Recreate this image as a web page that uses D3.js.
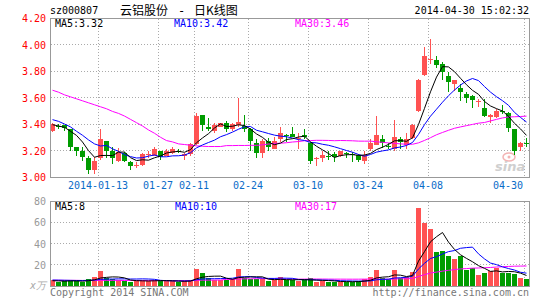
<!DOCTYPE html>
<html>
<head>
<meta charset="utf-8">
<script src="https://cdn.jsdelivr.net/npm/d3@7/dist/d3.min.js"></script>
<style>
  body { margin: 0; background: #fff; }
  svg { display: block; }
  text { font-family: "DejaVu Sans Mono", "Liberation Mono", monospace; font-size: 10px; }
</style>
</head>
<body>
<svg id="chart" width="545" height="300"></svg>
<script>
// ---- data ----
const tickIdx = [8, 18, 24, 33, 43, 53, 63, 79];
const tickLabels = ["2014-01-13", "01-27", "02-11", "02-24", "03-10", "03-24", "04-08", "04-30"];
const priceTicks = [4.2, 4.0, 3.8, 3.6, 3.4, 3.2, 3.0];
const volTicks = [80, 60, 40, 20];

const open = [3.35,3.385,3.39,3.36,3.225,3.20,3.145,3.055,3.14,3.27,
  3.20,3.12,3.18,3.11,3.085,3.09,3.17,3.16,3.20,3.16,
  3.18,3.20,3.16,3.17,3.25,3.47,3.38,3.345,3.38,3.405,
  3.36,3.39,3.385,3.36,3.26,3.18,3.27,3.21,3.285,3.32,
  3.325,3.29,3.32,3.26,3.14,3.14,3.16,3.17,3.16,3.18,
  3.175,3.165,3.12,3.21,3.245,3.29,3.235,3.21,3.285,3.245,
  3.295,3.496,3.77,3.885,3.88,3.85,3.76,3.70,3.67,3.63,
  3.61,3.565,3.52,3.45,3.45,3.495,3.485,3.36,3.225,3.26];
const high = [3.41,3.40,3.395,3.365,3.23,3.23,3.16,3.15,3.36,3.27,
  3.23,3.22,3.19,3.12,3.11,3.18,3.20,3.23,3.20,3.21,
  3.23,3.21,3.18,3.26,3.48,3.47,3.445,3.41,3.41,3.425,
  3.41,3.60,3.47,3.37,3.29,3.29,3.295,3.30,3.38,3.325,
  3.38,3.335,3.365,3.265,3.15,3.20,3.20,3.19,3.20,3.19,
  3.19,3.175,3.20,3.285,3.46,3.315,3.26,3.43,3.30,3.33,
  3.40,3.74,3.98,4.04,3.915,3.87,3.79,3.73,3.705,3.64,
  3.62,3.59,3.59,3.475,3.515,3.545,3.49,3.365,3.265,3.295];
const low = [3.34,3.36,3.35,3.195,3.16,3.12,3.02,3.02,3.13,3.14,
  3.10,3.11,3.11,3.05,3.07,3.08,3.14,3.16,3.13,3.155,
  3.17,3.18,3.13,3.16,3.24,3.345,3.35,3.33,3.375,3.34,
  3.35,3.38,3.34,3.20,3.145,3.145,3.20,3.21,3.265,3.265,
  3.30,3.215,3.29,3.10,3.08,3.11,3.13,3.11,3.15,3.145,
  3.11,3.11,3.10,3.20,3.24,3.22,3.215,3.195,3.215,3.215,
  3.29,3.49,3.765,3.85,3.82,3.73,3.64,3.65,3.57,3.555,
  3.52,3.53,3.455,3.41,3.445,3.475,3.34,3.165,3.20,3.225];
const close = [3.40,3.38,3.37,3.225,3.195,3.15,3.055,3.12,3.29,3.20,
  3.14,3.19,3.12,3.08,3.09,3.17,3.175,3.21,3.15,3.20,
  3.21,3.198,3.175,3.25,3.46,3.39,3.36,3.39,3.405,3.36,
  3.40,3.415,3.36,3.27,3.18,3.27,3.23,3.27,3.33,3.315,
  3.30,3.295,3.30,3.12,3.145,3.165,3.155,3.15,3.195,3.175,
  3.17,3.125,3.165,3.255,3.32,3.26,3.23,3.30,3.265,3.29,
  3.395,3.73,3.91,3.89,3.845,3.79,3.72,3.73,3.64,3.60,
  3.58,3.57,3.46,3.47,3.50,3.49,3.37,3.195,3.26,3.255];
const volume = [5.6,4.0,4.4,5.4,4.6,4.2,6.4,8.4,14.0,7.6,
  6.4,5.8,4.4,3.8,4.8,5.6,5.0,5.4,4.4,4.8,
  4.6,4.0,4.6,5.2,15.6,12.0,7.6,5.8,5.4,6.0,
  6.8,15.6,7.4,6.8,6.8,6.4,4.6,5.4,8.2,5.4,
  5.6,5.0,5.6,7.2,4.2,4.6,4.0,4.0,4.2,4.0,
  4.0,4.4,6.4,8.2,14.8,8.0,6.2,14.8,7.2,8.2,
  13.2,73.7,59.5,53.5,32,33,28.5,25,28.5,14.8,
  17.3,10.2,12.3,14.2,17.3,12.3,12.3,11,7.6,6.3];

// moving-average values before enough visible days exist
const ma5Lead = [3.395, 3.385, 3.375, 3.345];
const ma10Lead = [3.433, 3.42, 3.40, 3.378, 3.345, 3.315, 3.28, 3.25, 3.234];
const ma30Lead = [3.655,3.64,3.62,3.605,3.59,3.575,3.56,3.545,3.53,3.515,
  3.495,3.48,3.46,3.435,3.41,3.385,3.355,3.33,3.30,3.275,
  3.265,3.25,3.245,3.24,3.235,3.232,3.23,3.23,3.23];
const vma5Lead = [5.0, 4.8, 4.6, 4.8];
const vma10Lead = [5.6, 5.5, 5.4, 5.3, 5.2, 5.2, 5.3, 5.6, 6.2];
const vma30Lead = [5.4,5.4,5.3,5.3,5.3,5.2,5.2,5.2,5.3,5.3,
  5.3,5.3,5.2,5.2,5.2,5.2,5.2,5.1,5.1,5.1,
  5.1,5.1,5.1,5.2,5.4,5.5,5.5,5.6,5.6];

const RED = "#ff5252", GREEN = "#009c00";

function movingAvg(arr, n, lead) {
  return arr.map((_, i) => i < n - 1 ? lead[i] : d3.mean(arr.slice(i - n + 1, i + 1)));
}

const svg = d3.select("#chart");
const n = close.length;
const x = d3.scaleLinear().domain([0, n - 1]).range([50, 524]);
const yP = d3.scaleLinear().domain([3, 4.2]).range([177, 18]);
const yV = d3.scaleLinear().domain([0, 80]).range([286, 201]);
const crisp = v => Math.floor(v) + 0.5;
const up = i => close[i] >= open[i];

// header
svg.append("text").attr("x", 50).attr("y", 14).text("sz000807");
svg.append("text").attr("x", 120).attr("y", 15)
  .style("font-family", "'Noto Sans CJK SC', sans-serif").style("font-size", "12px").text("云铝股份");
svg.append("text").attr("x", 178).attr("y", 15).style("font-size", "12px").text("-");
svg.append("text").attr("x", 194).attr("y", 15)
  .style("font-family", "'Noto Sans CJK SC', sans-serif").style("font-size", "12px").text("日K线图");
svg.append("text").attr("x", 529).attr("y", 14).attr("text-anchor", "end").text("2014-04-30 15:02:32");

function grid(g, top, bottom, hVals, yScale) {
  g.selectAll(".hg").data(hVals).enter().append("line")
    .attr("x1", 51).attr("x2", 529)
    .attr("y1", d => crisp(yScale(d))).attr("y2", d => crisp(yScale(d)))
    .attr("stroke", "#aaa").attr("stroke-dasharray", "1,2");
  g.selectAll(".vg").data(tickIdx).enter().append("line")
    .attr("x1", d => crisp(x(d))).attr("x2", d => crisp(x(d)))
    .attr("y1", top).attr("y2", bottom)
    .attr("stroke", "#aaa").attr("stroke-dasharray", "1,2");
}

// ---- price panel ----
const pg = svg.append("g");
grid(pg, 19, 177, priceTicks.slice(1, -1), yP);

pg.selectAll(".plab").data(priceTicks).enter().append("text")
  .attr("x", 46).attr("y", d => yP(d) + 4).attr("text-anchor", "end")
  .attr("fill", "#ff0000").text(d => d.toFixed(2));

pg.selectAll(".dlab").data(tickIdx).enter().append("text")
  .attr("x", (d, i) => i === tickIdx.length - 1 ? 523 : x(d))
  .attr("y", 189)
  .attr("text-anchor", (d, i) => i === tickIdx.length - 1 ? "end" : "middle")
  .attr("fill", "#0a6cc8").text((d, i) => tickLabels[i]);

// sina watermark
pg.append("ellipse").attr("cx", 509).attr("cy", 157).attr("rx", 6).attr("ry", 4)
  .attr("fill", "none").attr("stroke", "#f3b4b4").attr("stroke-width", 1.5);
pg.append("circle").attr("cx", 509).attr("cy", 157).attr("r", 1.5).attr("fill", "#f3b4b4");
pg.append("text").attr("x", 495).attr("y", 171)
  .style("font-family", "'DejaVu Sans', sans-serif").style("font-size", "13px")
  .style("font-weight", "bold").style("font-style", "italic")
  .attr("fill", "#cfcfcf").text("sina");

const idx = d3.range(n);
// wicks
pg.selectAll(".wick").data(idx).enter().append("rect")
  .attr("x", i => x(i) + 2).attr("width", 1)
  .attr("y", i => Math.round(yP(high[i])))
  .attr("height", i => Math.max(1, Math.round(yP(low[i])) - Math.round(yP(high[i]))))
  .attr("fill", i => up(i) ? RED : GREEN);
// bodies
pg.selectAll(".body").data(idx).enter().append("rect")
  .attr("x", i => x(i)).attr("width", 5)
  .attr("y", i => Math.round(yP(Math.max(open[i], close[i]))))
  .attr("height", i => Math.max(1, Math.round(yP(Math.min(open[i], close[i]))) - Math.round(yP(Math.max(open[i], close[i])))))
  .attr("fill", i => up(i) ? RED : GREEN);

const ma5 = movingAvg(close, 5, ma5Lead);
const ma10 = movingAvg(close, 10, ma10Lead);
const ma30 = movingAvg(close, 30, ma30Lead);
const pLine = d3.line().x((d, i) => x(i) + 2.5).y(d => yP(d));
[[ma30, "#ff00ff"], [ma10, "#0000ff"], [ma5, "#000000"]].forEach(([s, c]) => {
  pg.append("path").attr("d", pLine(s)).attr("fill", "none").attr("stroke", c).attr("stroke-width", 1);
});

pg.append("rect").attr("x", 50.5).attr("y", 18.5).attr("width", 479).attr("height", 159)
  .attr("fill", "none").attr("stroke", "#999");

pg.append("text").attr("x", 55).attr("y", 27).attr("fill", "#000").text("MA5:3.32");
pg.append("text").attr("x", 174).attr("y", 27).attr("fill", "#0000ff").text("MA10:3.42");
pg.append("text").attr("x", 295).attr("y", 27).attr("fill", "#ff00ff").text("MA30:3.46");

// ---- volume panel ----
const vg = svg.append("g");
grid(vg, 202, 286, volTicks.slice(1), yV);

vg.selectAll(".vlab").data(volTicks).enter().append("text")
  .attr("x", 46).attr("y", d => yV(d) + 4).attr("text-anchor", "end")
  .attr("fill", "#999").text(d => d);
vg.append("text").attr("x", 30).attr("y", 289).attr("fill", "#aaa").style("font-style", "italic").text("x万");

vg.selectAll(".vbar").data(idx).enter().append("rect")
  .attr("x", i => x(i)).attr("width", 5)
  .attr("y", i => Math.round(yV(volume[i])))
  .attr("height", i => 286 - Math.round(yV(volume[i])))
  .attr("fill", i => up(i) ? RED : GREEN);

const vma5 = movingAvg(volume, 5, vma5Lead);
const vma10 = movingAvg(volume, 10, vma10Lead);
const vma30 = movingAvg(volume, 30, vma30Lead);
const vLine = d3.line().x((d, i) => x(i) + 2.5).y(d => yV(d));
[[vma30, "#ff00ff"], [vma10, "#0000ff"], [vma5, "#000000"]].forEach(([s, c]) => {
  vg.append("path").attr("d", vLine(s)).attr("fill", "none").attr("stroke", c).attr("stroke-width", 1);
});

vg.append("rect").attr("x", 50.5).attr("y", 201.5).attr("width", 479).attr("height", 85)
  .attr("fill", "none").attr("stroke", "#999");

vg.append("text").attr("x", 55).attr("y", 209.5).attr("fill", "#000").text("MA5:8");
vg.append("text").attr("x", 175).attr("y", 209.5).attr("fill", "#0000ff").text("MA10:10");
vg.append("text").attr("x", 295).attr("y", 209.5).attr("fill", "#ff00ff").text("MA30:17");

// footer
svg.append("text").attr("x", 50).attr("y", 296).attr("fill", "#777").text("Copyright 2014 SINA.COM");
svg.append("text").attr("x", 529).attr("y", 296).attr("text-anchor", "end").attr("fill", "#777").text("http://finance.sina.com.cn");
</script>
</body>
</html>
